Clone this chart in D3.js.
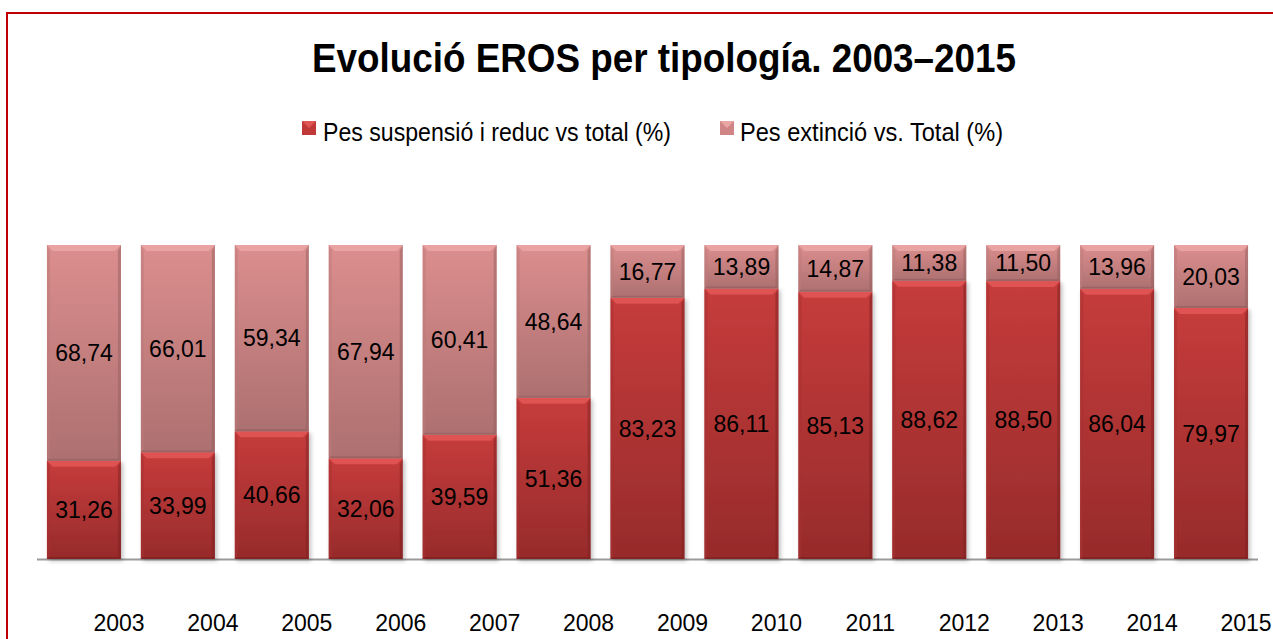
<!DOCTYPE html>
<html>
<head>
<meta charset="utf-8">
<script src="https://cdn.jsdelivr.net/npm/d3@7"></script>
<style>
  html, body { margin: 0; padding: 0; background: #fff; }
  svg { display: block; }
  text { font-family: "Liberation Sans", Arial, sans-serif; fill: #000; }
</style>
</head>
<body>
<svg id="chart" width="1273" height="639"></svg>
<script>
const years = ["2003","2004","2005","2006","2007","2008","2009","2010","2011","2012","2013","2014","2015"];
const suspensio = [31.26,33.99,40.66,32.06,39.59,51.36,83.23,86.11,85.13,88.62,88.50,86.04,79.97];
const extincio  = [68.74,66.01,59.34,67.94,60.41,48.64,16.77,13.89,14.87,11.38,11.50,13.96,20.03];
const seriesNames = ["Pes suspensió i reduc vs total (%)", "Pes extinció vs. Total (%)"];
const titleText = "Evolució EROS per tipología. 2003–2015";

const svg = d3.select("#chart");
const W = 1273, H = 639;

// frame
svg.append("rect").attr("x", 7).attr("y", 13).attr("width", 1300).attr("height", 700)
  .attr("fill", "none").attr("stroke", "#c00000").attr("stroke-width", 2);

const defs = svg.append("defs");
function grad(id, c1, c2) {
  const g = defs.append("linearGradient").attr("id", id)
    .attr("x1", 0).attr("y1", 0).attr("x2", 0).attr("y2", 1);
  g.append("stop").attr("offset", "0%").attr("stop-color", c1);
  g.append("stop").attr("offset", "100%").attr("stop-color", c2);
}
grad("gRed", "#c63c3c", "#972b2b");
grad("gPink", "#dc8e8e", "#ad7070");
const sh = defs.append("filter").attr("id", "shadow").attr("x", "-20%").attr("y", "-10%").attr("width", "140%").attr("height", "120%");
sh.append("feDropShadow").attr("dx", 2).attr("dy", 2).attr("stdDeviation", 2).attr("flood-color", "#000").attr("flood-opacity", 0.25);

const styles = [
  { fill: "url(#gRed)", top: "#e25555", side: "#a83030", bottom: "#7e2222", legend: "#c03838" },
  { fill: "url(#gPink)", top: "#eaa5a5", side: "#bb7a7a", bottom: "#946060", legend: "#cf8585" }
];

// scales
const x = d3.scaleBand().domain(years).range([37, 1258]).paddingInner(0.212).paddingOuter(0.106);
const y = d3.scaleLinear().domain([0, 100]).range([559, 245]);

// title
svg.append("text").attr("x", 312).attr("y", 72)
  .attr("font-size", 40).attr("font-weight", "bold")
  .attr("textLength", 704).attr("lengthAdjust", "spacingAndGlyphs")
  .text(titleText);

// legend
const legendItems = [
  { name: seriesNames[0], mx: 302, tx: 323, tw: 348, s: styles[0] },
  { name: seriesNames[1], mx: 720, tx: 740, tw: 263, s: styles[1] }
];
legendItems.forEach(it => {
  const g = svg.append("g");
  g.append("rect").attr("x", it.mx).attr("y", 121).attr("width", 14).attr("height", 14).attr("fill", it.s.legend);
  g.append("path").attr("d", `M${it.mx},121 L${it.mx+14},121 L${it.mx+7},128 Z`).attr("fill", it.s.top);
  g.append("text").attr("x", it.tx).attr("y", 141).attr("font-size", 25)
    .attr("textLength", it.tw).attr("lengthAdjust", "spacingAndGlyphs").text(it.name);
});

// stacked data
const data = years.map((yr, i) => ({ year: yr, s0: suspensio[i], s1: extincio[i] }));
const stack = d3.stack().keys(["s0", "s1"])(data);

// baseline
svg.append("line").attr("x1", 37).attr("x2", 1258).attr("y1", 559.5).attr("y2", 559.5)
  .attr("stroke", "#9a9a9a").attr("stroke-width", 2);

const fmt = v => v.toFixed(2).replace(".", ",");

stack.forEach((layer, li) => {
  const st = styles[li];
  const g = svg.append("g");
  layer.forEach(d => {
    const x0 = x(d.data.year), w = x.bandwidth();
    const yT = y(d[1]), yB = y(d[0]), h = yB - yT;
    const b = Math.min(6, h / 3);
    const sg = g.append("g");
    if (li === 0) sg.attr("filter", "url(#shadow)");
    sg.append("rect").attr("x", x0).attr("y", yT).attr("width", w).attr("height", h).attr("fill", st.fill);
    // bevel: top
    sg.append("path").attr("d", `M${x0},${yT} L${x0+w},${yT} L${x0+w-b},${yT+b} L${x0+b},${yT+b} Z`)
      .attr("fill", st.top).attr("opacity", 0.9);
    // sides
    sg.append("path").attr("d", `M${x0},${yT} L${x0+b*0.5},${yT+b} L${x0+b*0.5},${yB-2} L${x0},${yB} Z`)
      .attr("fill", st.side).attr("opacity", 0.5);
    sg.append("path").attr("d", `M${x0+w},${yT} L${x0+w-b*0.5},${yT+b} L${x0+w-b*0.5},${yB-2} L${x0+w},${yB} Z`)
      .attr("fill", st.bottom).attr("opacity", 0.5);
    // bottom
    sg.append("path").attr("d", `M${x0},${yB} L${x0+w},${yB} L${x0+w-2},${yB-2} L${x0+2},${yB-2} Z`)
      .attr("fill", st.bottom).attr("opacity", 0.7);
  });
});

// value labels
stack.forEach(layer => {
  layer.forEach(d => {
    const v = d[1] - d[0];
    svg.append("text")
      .attr("x", x(d.data.year) + x.bandwidth() / 2)
      .attr("y", (y(d[0]) + y(d[1])) / 2)
      .attr("dy", "0.36em")
      .attr("text-anchor", "middle")
      .attr("font-size", 23)
      .text(fmt(v));
  });
});

// x axis labels (offset as in the reference)
const xAxis = d3.axisBottom(x).tickSize(0).tickPadding(0);
const ax = svg.append("g").attr("transform", "translate(35,631)").call(xAxis);
ax.select(".domain").remove();
ax.selectAll("text").attr("font-size", 23).attr("fill", "#000").attr("dy", 0)
  .style("font-family", '"Liberation Sans", Arial, sans-serif');
</script>
</body>
</html>
